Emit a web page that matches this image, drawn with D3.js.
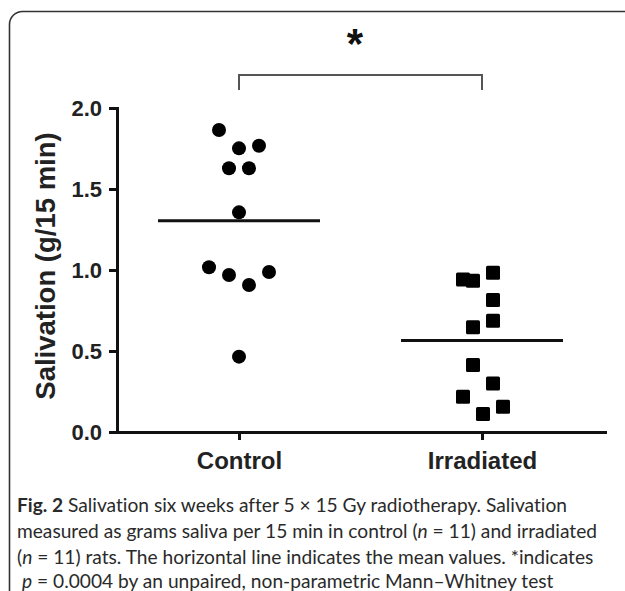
<!DOCTYPE html>
<html>
<head>
<meta charset="utf-8">
<script src="https://d3js.org/d3.v7.min.js"></script>
<style>
body { margin: 0; background: #fff; }
</style>
</head>
<body>
<svg id="chart" width="625" height="591"></svg>
<script>
// values (g saliva / 15 min)
var groups = ["Control", "Irradiated"];
var controlValues = [1.864, 1.751, 1.767, 1.628, 1.628, 1.356, 1.017, 0.969, 0.907, 0.988, 0.465];
var controlSlots = [-2, 0, 2, -1, 1, 0, -3, -1, 1, 3, 0];          // scatter column of each dot
var irradiatedValues = [0.942, 0.934, 0.983, 0.815, 0.687, 0.646, 0.414, 0.300, 0.218, 0.111, 0.156];
var irradiatedSlots = [-2, -1, 1, 1, 1, -1, -1, 1, -2, 0, 2];
var yTicks = [0.0, 0.5, 1.0, 1.5, 2.0];
var yLabel = "Salivation (g/15 min)";
var star = "*";

var svg = d3.select("#chart");

var y = d3.scaleLinear().domain([0, 2]).range([432, 108]);
var x = d3.scalePoint().domain(groups).range([117.5, 603.5]).padding(0.5);
var jitter = d3.scaleLinear().domain([-1, 1]).range([-10, 10]);

var series = [
  {group: "Control", values: controlValues, slots: controlSlots},
  {group: "Irradiated", values: irradiatedValues, slots: irradiatedSlots}
];

// frame round the figure
svg.append("rect")
  .attr("x", 9.5).attr("y", 11.5)
  .attr("width", 700).attr("height", 700)
  .attr("rx", 13)
  .attr("fill", "none")
  .attr("stroke", "#333")
  .attr("stroke-width", 1.6);

// y axis
var yAxis = svg.append("g")
  .attr("transform", "translate(117,0)")
  .call(d3.axisLeft(y).tickValues(yTicks).tickFormat(d3.format(".1f"))
        .tickSize(8).tickPadding(7).tickSizeOuter(0));
yAxis.select(".domain").attr("stroke", "#111").attr("stroke-width", 3).attr("stroke-linecap", "square");
yAxis.selectAll(".tick line").attr("stroke", "#111").attr("stroke-width", 3);
yAxis.selectAll("text")
  .attr("fill", "#222")
  .style("font-family", "'Liberation Sans', Arial, sans-serif")
  .style("font-weight", "bold")
  .style("font-size", "22px");

// x axis
var xAxis = svg.append("g")
  .attr("transform", "translate(0," + y(0) + ")")
  .call(d3.axisBottom(x).tickSize(8).tickPadding(12).tickSizeOuter(0));
xAxis.select(".domain").remove();
xAxis.append("line")
  .attr("x1", 116).attr("x2", 607)
  .attr("y1", 0.5).attr("y2", 0.5)
  .attr("stroke", "#111").attr("stroke-width", 3);
xAxis.selectAll(".tick line").attr("stroke", "#111").attr("stroke-width", 3);
xAxis.selectAll("text")
  .attr("fill", "#222")
  .style("font-family", "'Liberation Sans', Arial, sans-serif")
  .style("font-weight", "bold")
  .style("font-size", "24px");

// y label
svg.append("text")
  .attr("transform", "translate(55,266) rotate(-90)")
  .attr("text-anchor", "middle")
  .attr("fill", "#222")
  .style("font-family", "'Liberation Sans', Arial, sans-serif")
  .style("font-weight", "bold")
  .style("font-size", "27.5px")
  .text(yLabel);

// mean lines
svg.selectAll(".mean")
  .data(series)
  .enter().append("line")
  .attr("class", "mean")
  .attr("x1", function(d) { return x(d.group) - x.step() / 3; })
  .attr("x2", function(d) { return x(d.group) + x.step() / 3; })
  .attr("y1", function(d) { return y(d3.mean(d.values)); })
  .attr("y2", function(d) { return y(d3.mean(d.values)); })
  .attr("stroke", "#111")
  .attr("stroke-width", 3);

// control dots
svg.selectAll(".dot")
  .data(controlValues)
  .enter().append("circle")
  .attr("class", "dot")
  .attr("cx", function(d, i) { return x("Control") + jitter(controlSlots[i]); })
  .attr("cy", function(d) { return y(d); })
  .attr("r", 7)
  .attr("fill", "#000");

// irradiated squares
svg.selectAll(".sq")
  .data(irradiatedValues)
  .enter().append("rect")
  .attr("class", "sq")
  .attr("x", function(d, i) { return x("Irradiated") + 1 + jitter(irradiatedSlots[i]) - 7; })
  .attr("y", function(d) { return y(d) - 7; })
  .attr("width", 14).attr("height", 14)
  .attr("rx", 1.5)
  .attr("fill", "#000");

// significance bracket
svg.append("path")
  .attr("d", "M" + x("Control") + ",90V75H" + x("Irradiated") + "V90")
  .attr("fill", "none")
  .attr("stroke", "#555")
  .attr("stroke-width", 2);

svg.append("text")
  .attr("x", 355).attr("y", 58)
  .attr("text-anchor", "middle")
  .attr("fill", "#111")
  .style("font-family", "'Liberation Sans', Arial, sans-serif")
  .style("font-weight", "bold")
  .style("font-size", "42px")
  .text(star);

// caption
var caption = svg.append("g")
  .style("font-family", "Lato, 'Open Sans', sans-serif")
  .style("font-size", "20px")
  .style("font-variant-ligatures", "none")
  .attr("fill", "#2a2a2a");

var l1 = caption.append("text").attr("x", 17).attr("y", 512);
l1.append("tspan").style("font-weight", "bold").text("Fig. 2");
l1.append("tspan").text(" Salivation six weeks after 5 \u00d7 15 Gy radiotherapy. Salivation");

var l2 = caption.append("text").attr("x", 17).attr("y", 538);
l2.append("tspan").text("measured as grams saliva per 15 min in control (");
l2.append("tspan").style("font-style", "italic").text("n");
l2.append("tspan").text(" = 11) and irradiated");

var l3 = caption.append("text").attr("x", 17).attr("y", 564);
l3.append("tspan").text("(");
l3.append("tspan").style("font-style", "italic").text("n");
l3.append("tspan").text(" = 11) rats. The horizontal line indicates the mean values. *indicates");

var l4 = caption.append("text").attr("x", 22).attr("y", 588);
l4.append("tspan").style("font-style", "italic").text("p");
l4.append("tspan").text(" = 0.0004 by an unpaired, non-parametric Mann\u2013Whitney test");

// size the caption so its second line runs to the right edge like the original
var w2 = l2.node().getComputedTextLength();
caption.style("font-size", (20 * 580 / w2).toFixed(2) + "px");
</script>
</body>
</html>
